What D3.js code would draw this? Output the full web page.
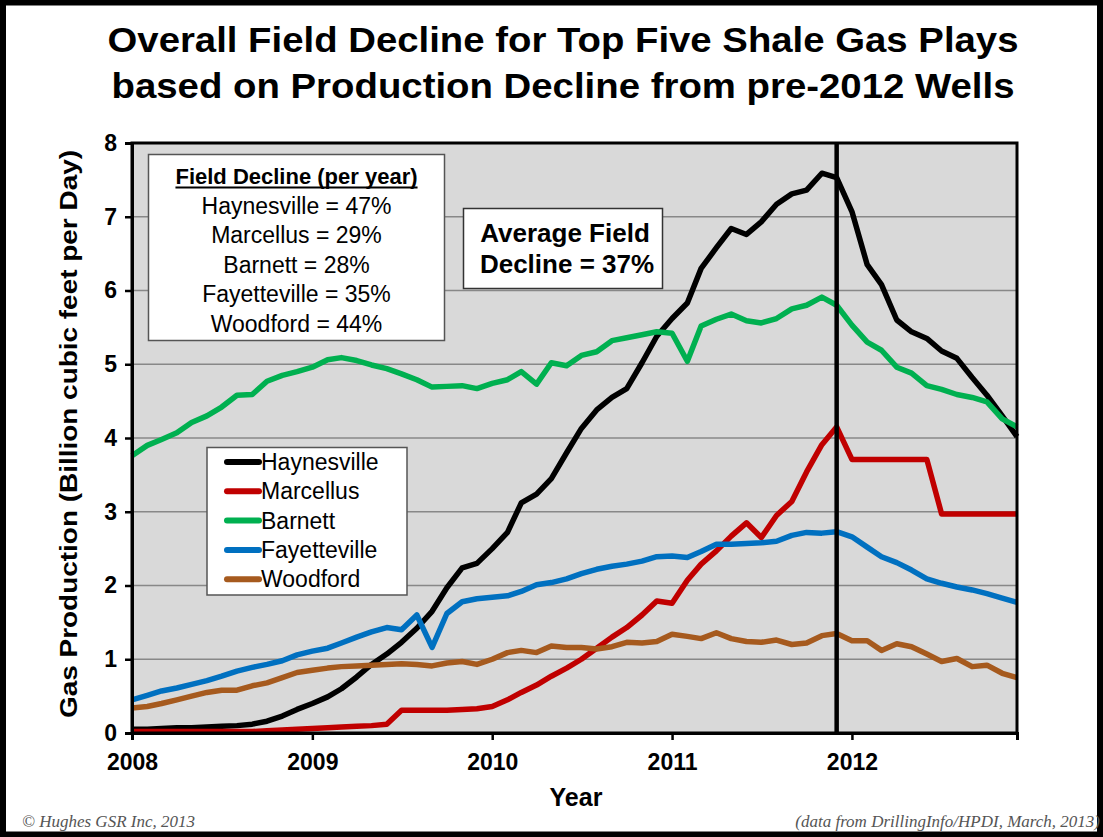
<!DOCTYPE html>
<html>
<head>
<meta charset="utf-8">
<script src="https://cdn.jsdelivr.net/npm/d3@7"></script>
<style>
  html, body { margin: 0; padding: 0; background: #ffffff; }
  svg { display: block; font-family: "Liberation Sans", Arial, sans-serif; }
</style>
</head>
<body>
<svg id="chart" width="1103" height="837"></svg>
<script>
// ---------------- DATA ----------------
const startMonth = new Date(2008, 0, 1);
const endMonth = new Date(2012, 11, 1);
const months = d3.timeMonths(startMonth, new Date(2013, 0, 1)); // Jan 2008 .. Dec 2012

const yearTicks = [new Date(2008,0,1), new Date(2009,0,1), new Date(2010,0,1), new Date(2011,0,1), new Date(2012,0,1)];
const yearLabels = ["2008", "2009", "2010", "2011", "2012"];
const yTicks = [0, 1, 2, 3, 4, 5, 6, 7, 8];

const seriesNames = ["Haynesville", "Marcellus", "Barnett", "Fayetteville", "Woodford"];
const seriesColors = ["#000000", "#c00000", "#00b050", "#0070c0", "#a65a1e"];

const haynesville = [0.05,0.05,0.06,0.07,0.07,0.08,0.09,0.10,0.12,0.16,
  0.23,0.32,0.40,0.49,0.60,0.76,0.93,1.07,1.23,1.42,
  1.65,1.97,2.24,2.30,2.50,2.72,3.12,3.24,3.45,3.80,
  4.13,4.38,4.55,4.67,5.02,5.38,5.62,5.83,6.30,6.58,
  6.84,6.76,6.93,7.17,7.31,7.36,7.59,7.53,7.07,6.35,
  6.08,5.60,5.44,5.35,5.18,5.08,4.82,4.58,4.30,4.02];
const marcellus = [0.02,0.02,0.02,0.02,0.02,0.02,0.02,0.02,0.02,0.03,
  0.04,0.05,0.06,0.07,0.08,0.09,0.10,0.12,0.31,0.31,
  0.31,0.31,0.32,0.33,0.36,0.45,0.55,0.65,0.77,0.88,
  1.00,1.15,1.30,1.43,1.60,1.79,1.76,2.07,2.29,2.47,
  2.67,2.85,2.65,2.95,3.14,3.54,3.91,4.15,3.71,3.71,
  3.71,3.71,3.71,3.71,2.97,2.97,2.97,2.97,2.97,2.97];
const barnett = [3.76,3.90,3.98,4.07,4.21,4.30,4.42,4.58,4.59,4.77,
  4.85,4.90,4.96,5.06,5.09,5.05,4.99,4.94,4.87,4.79,
  4.69,4.70,4.71,4.67,4.74,4.79,4.90,4.73,5.02,4.98,
  5.12,5.17,5.32,5.36,5.40,5.44,5.42,5.04,5.52,5.61,
  5.68,5.59,5.56,5.62,5.75,5.80,5.91,5.80,5.53,5.30,
  5.19,4.96,4.88,4.71,4.66,4.59,4.55,4.49,4.26,4.15];
const fayetteville = [0.45,0.51,0.57,0.61,0.66,0.71,0.77,0.84,0.89,0.93,
  0.98,1.06,1.11,1.15,1.22,1.30,1.37,1.43,1.40,1.60,
  1.16,1.62,1.78,1.82,1.84,1.86,1.92,2.01,2.04,2.09,
  2.16,2.22,2.26,2.29,2.33,2.39,2.40,2.38,2.46,2.56,
  2.56,2.57,2.58,2.60,2.68,2.72,2.71,2.73,2.66,2.52,
  2.39,2.31,2.21,2.09,2.03,1.98,1.94,1.89,1.83,1.77];
const woodford = [0.34,0.36,0.40,0.45,0.50,0.55,0.58,0.58,0.64,0.68,
  0.75,0.82,0.85,0.88,0.90,0.91,0.92,0.93,0.94,0.93,
  0.91,0.95,0.97,0.93,1.00,1.09,1.12,1.09,1.18,1.16,
  1.16,1.14,1.17,1.23,1.22,1.24,1.34,1.31,1.28,1.36,
  1.28,1.24,1.23,1.26,1.20,1.22,1.32,1.35,1.25,1.25,
  1.12,1.21,1.17,1.07,0.97,1.01,0.90,0.92,0.81,0.75];

const seriesValues = [haynesville, marcellus, barnett, fayetteville, woodford];
const markerDate = new Date(2011, 11, 1); // pre-2012 cut-off line

const declineLabels = ["Haynesville = 47%", "Marcellus = 29%", "Barnett = 28%", "Fayetteville = 35%", "Woodford = 44%"];
const titleLines = ["Overall Field Decline for Top Five Shale Gas Plays", "based on Production Decline from pre-2012 Wells"];

// ---------------- LAYOUT ----------------
const svg = d3.select("#chart");
const plot = { left: 132, right: 1017, top: 143, bottom: 733 };
const sans = "'Liberation Sans', Arial, sans-serif";
const serif = "'Liberation Serif', 'Times New Roman', serif";

const x = d3.scaleTime().domain([startMonth, endMonth]).range([plot.left, plot.right]);
const y = d3.scaleLinear().domain([0, 8]).range([plot.bottom, plot.top]);

// outer frame
svg.append("rect").attr("x", 3).attr("y", 2.5).attr("width", 1097).attr("height", 832)
  .attr("fill", "none").attr("stroke", "#000").attr("stroke-width", 6);

// title
titleLines.forEach((t, i) => {
  svg.append("text")
    .attr("x", 563).attr("y", 52 + i * 46)
    .attr("text-anchor", "middle")
    .style("font-family", sans)
    .attr("font-size", 35).attr("font-weight", "bold").attr("fill", "#000")
    .attr("textLength", i === 0 ? 911 : 903)
    .attr("lengthAdjust", "spacingAndGlyphs")
    .text(t);
});

// plot background
svg.append("rect").attr("x", plot.left).attr("y", plot.top)
  .attr("width", plot.right - plot.left).attr("height", plot.bottom - plot.top)
  .attr("fill", "#d9d9d9");

// gridlines
svg.append("g").selectAll("line").data(yTicks.filter(v => v > 0 && v < 8)).join("line")
  .attr("x1", plot.left).attr("x2", plot.right)
  .attr("y1", d => y(d)).attr("y2", d => y(d))
  .attr("stroke", "#888").attr("stroke-width", 1.5);

// series lines
const line = d3.line().x((d, i) => x(months[i])).y(d => y(d));
const linesG = svg.append("g");
seriesValues.forEach((vals, k) => {
  linesG.append("path").datum(vals)
    .attr("d", line)
    .attr("fill", "none")
    .attr("stroke", seriesColors[k])
    .attr("stroke-width", 5.5)
    .attr("stroke-linejoin", "round")
    .attr("stroke-linecap", "butt");
});

// vertical cut-off line
svg.append("line").attr("x1", x(markerDate)).attr("x2", x(markerDate))
  .attr("y1", plot.top).attr("y2", plot.bottom)
  .attr("stroke", "#000").attr("stroke-width", 4.5);

// plot frame
svg.append("rect").attr("x", plot.left).attr("y", plot.top)
  .attr("width", plot.right - plot.left).attr("height", plot.bottom - plot.top)
  .attr("fill", "none").attr("stroke", "#000").attr("stroke-width", 3);

// axes
const yAxis = d3.axisLeft(y).tickValues(yTicks).tickFormat(d3.format("d")).tickSize(7).tickPadding(8);
const yAxisG = svg.append("g").attr("transform", `translate(${plot.left},0)`).call(yAxis);
yAxisG.select(".domain").attr("stroke", "#000").attr("stroke-width", 3);
yAxisG.selectAll(".tick line").attr("stroke", "#000").attr("stroke-width", 2.5);
yAxisG.selectAll(".tick text").style("font-family", sans).style("font-size", "23px")
  .style("font-weight", "bold").attr("fill", "#000");

const xAxis = d3.axisBottom(x).tickValues(yearTicks).tickFormat((d, i) => yearLabels[i]).tickSize(7).tickPadding(14);
const xAxisG = svg.append("g").attr("transform", `translate(0,${plot.bottom})`).call(xAxis);
xAxisG.select(".domain").attr("stroke", "#000").attr("stroke-width", 3);
xAxisG.selectAll(".tick line").attr("stroke", "#000").attr("stroke-width", 2.5);
xAxisG.selectAll(".tick text").style("font-family", sans).style("font-size", "23px")
  .style("font-weight", "bold").attr("fill", "#000");

// axis titles
svg.append("text").attr("x", 576).attr("y", 806).attr("text-anchor", "middle")
  .style("font-family", sans)
  .attr("font-size", 25).attr("font-weight", "bold").attr("fill", "#000").text("Year");
svg.append("text")
  .attr("transform", "translate(77,434) rotate(-90)")
  .attr("text-anchor", "middle")
  .style("font-family", sans)
  .attr("font-size", 24).attr("font-weight", "bold").attr("fill", "#000")
  .attr("textLength", 568).attr("lengthAdjust", "spacingAndGlyphs")
  .text("Gas Production (Billion cubic feet per Day)");

// Field decline box
svg.append("rect").attr("x", 148.5).attr("y", 154.5).attr("width", 296).attr("height", 186)
  .attr("fill", "#fff").attr("stroke", "#555").attr("stroke-width", 1.5);
const hdr = svg.append("text").attr("x", 296.5).attr("y", 184).attr("text-anchor", "middle")
  .style("font-family", sans)
  .attr("font-size", 22).attr("font-weight", "bold").attr("fill", "#000")
  .text("Field Decline (per year)");
const hw = hdr.node().getComputedTextLength();
svg.append("line").attr("x1", 296.5 - hw / 2).attr("x2", 296.5 + hw / 2).attr("y1", 187.5).attr("y2", 187.5)
  .attr("stroke", "#000").attr("stroke-width", 2);
declineLabels.forEach((t, i) => {
  svg.append("text").attr("x", 296.5).attr("y", 214 + i * 29.4).attr("text-anchor", "middle")
    .style("font-family", sans)
    .attr("font-size", 23).attr("fill", "#000").text(t);
});

// Average field decline box
svg.append("rect").attr("x", 463.5).attr("y", 208.5).attr("width", 199).attr("height", 80)
  .attr("fill", "#fff").attr("stroke", "#333").attr("stroke-width", 1.5);
svg.append("text").attr("x", 565).attr("y", 242).attr("text-anchor", "middle")
  .style("font-family", sans)
  .attr("font-size", 26).attr("font-weight", "bold").attr("fill", "#000").text("Average Field");
svg.append("text").attr("x", 567).attr("y", 272.5).attr("text-anchor", "middle")
  .style("font-family", sans)
  .attr("font-size", 26).attr("font-weight", "bold").attr("fill", "#000").text("Decline = 37%");

// legend
const legG = svg.append("g");
legG.append("rect").attr("x", 207).attr("y", 447.5).attr("width", 200).attr("height", 147.5)
  .attr("fill", "#fff").attr("stroke", "#555").attr("stroke-width", 1.5);
seriesNames.forEach((name, i) => {
  const by = 470 + i * 29.3;
  legG.append("line").attr("x1", 227).attr("x2", 259).attr("y1", by - 8).attr("y2", by - 8)
    .attr("stroke", seriesColors[i]).attr("stroke-width", 6).attr("stroke-linecap", "round");
  legG.append("text").attr("x", 261).attr("y", by).style("font-family", sans)
    .attr("font-size", 23).attr("fill", "#000").text(name);
});

// footers
svg.append("text").attr("x", 22).attr("y", 827)
  .style("font-family", serif).style("font-style", "italic")
  .attr("font-size", 17).attr("fill", "#555").text("©  Hughes GSR Inc, 2013");
svg.append("text").attr("x", 1100).attr("y", 827).attr("text-anchor", "end")
  .style("font-family", serif).style("font-style", "italic")
  .attr("font-size", 17).attr("fill", "#555").text("(data from  DrillingInfo/HPDI, March, 2013)");
</script>
</body>
</html>
